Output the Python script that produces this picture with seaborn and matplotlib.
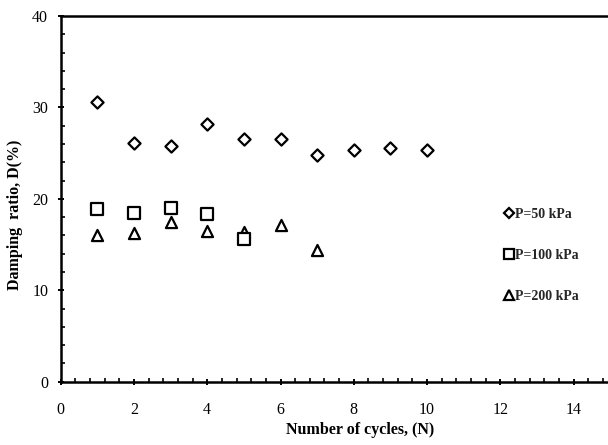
import matplotlib
matplotlib.use("Agg")
import matplotlib.pyplot as plt
from matplotlib.lines import Line2D
from matplotlib.ticker import MultipleLocator
import seaborn as sns
import pandas as pd

sns.set_theme(style="white")
plt.rcParams["font.family"] = ["Liberation Serif", "DejaVu Serif"]

# Damping ratio D(%) per loading cycle for three confining pressures
cycles_50 = [1, 2, 3, 4, 5, 6, 7, 8, 9, 10]
damping_50 = [30.6, 26.1, 25.8, 28.2, 26.6, 26.6, 24.8, 25.3, 25.6, 25.4]
cycles_100 = [1, 2, 3, 4, 5]
damping_100 = [18.9, 18.4, 19.0, 18.3, 15.6]
cycles_200 = [1, 2, 3, 4, 5, 6, 7]
damping_200 = [16.1, 16.3, 17.5, 16.5, 16.4, 17.1, 14.4]
labels = ["P=50 kPa", "P=100 kPa", "P=200 kPa"]
x_ticks = [0, 2, 4, 6, 8, 10, 12, 14]
y_ticks = [0, 10, 20, 30, 40]

fig = plt.figure(figsize=(6.08, 4.45), dpi=100)
ax = fig.add_axes([0.0998, 0.1422, 0.9642, 0.8218])

series = [
    (cycles_200, damping_200, "^", 8.0),
    (cycles_100, damping_100, "s", 8.6),
    (cycles_50, damping_50, "D", 6.2),
]
for xs, ys, mk, ms in series:
    df = pd.DataFrame({"N": xs, "D": ys})
    sns.scatterplot(data=df, x="N", y="D", marker=mk, s=ms ** 2,
                    facecolor="white", edgecolor="black", linewidth=1.6,
                    ax=ax, zorder=3)

ax.set_xlim(0, 16)
ax.set_ylim(0, 40)
ax.set_xticks(x_ticks)
ax.set_yticks(y_ticks)
ax.xaxis.set_minor_locator(MultipleLocator(0.4))
ax.yaxis.set_minor_locator(MultipleLocator(2))
ax.tick_params(axis="both", which="major", direction="inout", length=5,
               width=1.4, color="black", labelsize=11.5, labelcolor="black")
ax.tick_params(axis="x", which="major", pad=12)
ax.tick_params(axis="y", which="major", pad=6.5)
ax.tick_params(axis="both", which="minor", direction="in", length=3,
               width=1.2, color="black")
ax.tick_params(bottom=True, left=True, which="both")

for side in ["left", "bottom", "top"]:
    ax.spines[side].set_visible(True)
    ax.spines[side].set_color("black")
    ax.spines[side].set_linewidth(1.8)
ax.spines["right"].set_visible(False)

ax.set_xlabel("Number of cycles, (N)", fontsize=11.5, fontweight="bold",
              color="black", va="center")
ax.set_ylabel("Damping  ratio, D(%)", fontsize=11.5, fontweight="bold",
              color="black", va="center")
ax.xaxis.set_label_coords(0.51, -0.132)
ax.yaxis.set_label_coords(-0.078, 0.456)
ax.grid(False)

handles = [
    Line2D([], [], linestyle="none", marker="D", markersize=5.2,
           markerfacecolor="white", markeredgecolor="black", markeredgewidth=1.6),
    Line2D([], [], linestyle="none", marker="s", markersize=7.5,
           markerfacecolor="white", markeredgecolor="black", markeredgewidth=1.6),
    Line2D([], [], linestyle="none", marker="^", markersize=7.5,
           markerfacecolor="white", markeredgecolor="black", markeredgewidth=1.6),
]
leg = fig.legend(handles, labels, loc="upper left",
                 bbox_to_anchor=(0.81, 0.56), frameon=False,
                 handlelength=0.6, handletextpad=0.15, labelspacing=2.0,
                 prop={"family": "Liberation Serif", "weight": "bold", "size": 10})

fig.savefig("out.png", dpi=100)
